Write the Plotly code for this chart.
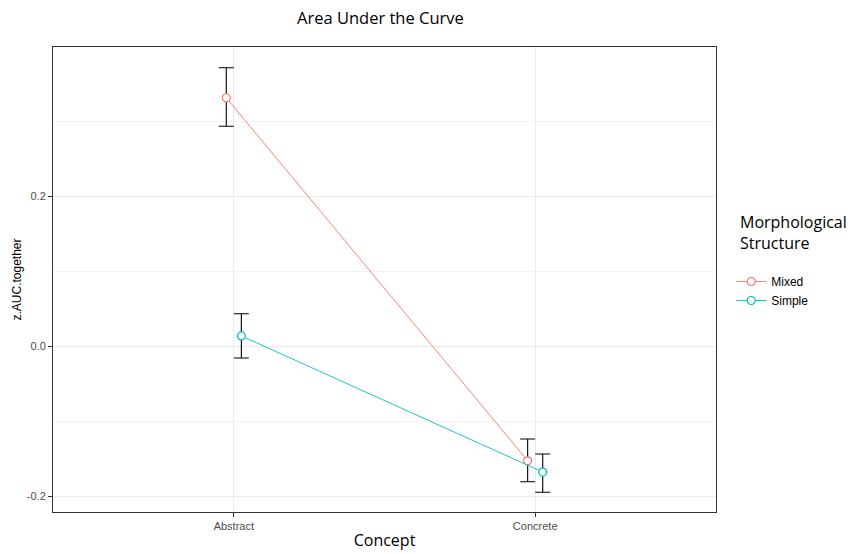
import plotly.graph_objects as go

categories = ["Abstract", "Concrete"]
groups = ["Mixed", "Simple"]
colors = {"Mixed": "#F8766D", "Simple": "#00BFC4"}
means = {"Mixed": [0.331, -0.153], "Simple": [0.0135, -0.168]}
upper = {"Mixed": [0.371, -0.124], "Simple": [0.043, -0.144]}
lower = {"Mixed": [0.293, -0.181], "Simple": [-0.016, -0.195]}
dodge = {"Mixed": -0.025, "Simple": 0.025}

# page has an 8px body margin; the figure is sized/offset to compensate
W, H = 850, 546
L, R, T, B = 45, 142, 39, 42

fig = go.Figure()
for g in groups:
    xs = [i + 1 + dodge[g] for i in range(len(categories))]
    fig.add_trace(go.Scatter(
        x=xs, y=means[g], mode="markers", showlegend=False, hoverinfo="skip",
        marker=dict(size=1, color="rgba(0,0,0,0)"),
        error_y=dict(type="data", symmetric=False,
                     array=[u - m for u, m in zip(upper[g], means[g])],
                     arrayminus=[m - l for m, l in zip(means[g], lower[g])],
                     color="black", thickness=1.1, width=7.5)))
for g in groups:
    xs = [i + 1 + dodge[g] for i in range(len(categories))]
    fig.add_trace(go.Scatter(
        x=xs, y=means[g], mode="lines+markers", name=g,
        line=dict(color=colors[g], width=0.9),
        marker=dict(symbol="circle", size=8, color="white",
                    line=dict(color=colors[g], width=1.2))))

plot_h = H - T - B
plot_w = W - L - R
fig.update_layout(
    width=W, height=H,
    margin=dict(l=L, r=R, t=T, b=B),
    paper_bgcolor="white", plot_bgcolor="white",
    font=dict(family="Liberation Sans, Arial, sans-serif"),
    legend=dict(
        x=1.023, y=(H - B - 259) / plot_h, xanchor="left", yanchor="top",
        font=dict(size=12, color="black"), tracegroupgap=0,
    ),
    annotations=[
        dict(text="Area Under the Curve", xref="paper", yref="paper",
             x=(372 - L) / plot_w, y=(H - B - 9) / plot_h,
             xanchor="center", yanchor="middle", showarrow=False,
             font=dict(family="Open Sans, sans-serif", size=16.5, color="black")),
        dict(text="Morphological<br>Structure", xref="paper", yref="paper",
             x=(730 - L) / plot_w, y=(H - B - 224.5) / plot_h,
             xanchor="left", yanchor="middle", align="left", showarrow=False,
             font=dict(family="Open Sans, sans-serif", size=16, color="black")),
    ],
)
fig.update_xaxes(
    range=[0.4, 2.6], tickmode="array", tickvals=[1, 2], ticktext=categories,
    showgrid=True, gridcolor="#EBEBEB", gridwidth=1, automargin=False,
    ticks="outside", ticklen=4, tickcolor="#333333",
    tickfont=dict(size=11, color="#4D4D4D"),
    showline=True, linecolor="#333333", linewidth=1, mirror=True, zeroline=False,
    title=dict(text="Concept", font=dict(size=16, color="black",
                                        family="Open Sans, sans-serif"), standoff=3),
)
fig.update_yaxes(
    range=[-0.2213, 0.3987], tickmode="array", tickvals=[-0.2, 0.0, 0.2],
    ticktext=["-0.2", "0.0", "0.2"],
    showgrid=True, gridcolor="#EBEBEB", gridwidth=1, automargin=False,
    minor=dict(tickvals=[-0.1, 0.1, 0.3], showgrid=True, gridcolor="#F2F2F2", gridwidth=1, ticks=""),
    ticks="outside", ticklen=4, tickcolor="#333333",
    tickfont=dict(size=11, color="#4D4D4D"),
    showline=True, linecolor="#333333", linewidth=1, mirror=True, zeroline=False,
    title=dict(text="z.AUC.together", font=dict(size=12, color="black"), standoff=2),
)

fig.write_html("out.html")
